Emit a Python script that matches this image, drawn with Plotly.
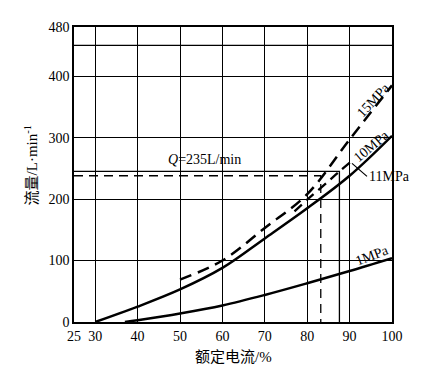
import plotly.graph_objects as go

# ---- data ----
x_ticks = [25, 30, 40, 50, 60, 70, 80, 90, 100]
y_ticks = [0, 100, 200, 300, 400, 480]
extra_hlines = [450]

x_1mpa = [37, 40, 50, 60, 70, 80, 90, 100]
y_1mpa = [0, 3, 14, 27, 44, 63, 83, 104]

x_10mpa = [30, 40, 50, 60, 70, 80, 90, 100]
y_10mpa = [0, 25, 53, 88, 136, 185, 238, 303]

x_11mpa = [77, 80, 85, 87.6, 90.5]
y_11mpa = [180, 199, 229, 245, 262]

x_15mpa = [50, 60, 70, 80, 90, 100]
y_15mpa = [69, 100, 153, 208, 297, 385]

q_solid_y, q_solid_x = 245, 87.6
q_dash_y, q_dash_x = 238, 83.2

FONT = "Liberation Serif, Times New Roman, Noto Sans CJK SC, serif"

fig = go.Figure()

for h in extra_hlines:
    fig.add_hline(y=h, line=dict(color="black", width=1.3), layer="below")

# Q reference lines
fig.add_trace(go.Scatter(x=[25, q_solid_x, q_solid_x], y=[q_solid_y, q_solid_y, 0],
                         mode="lines", line=dict(color="black", width=1.3)))
fig.add_trace(go.Scatter(x=[25, q_dash_x, q_dash_x], y=[q_dash_y, q_dash_y, 0],
                         mode="lines", line=dict(color="black", width=1.3, dash="9px,6px")))

# curves
fig.add_trace(go.Scatter(x=x_1mpa, y=y_1mpa, mode="lines", line_shape="spline",
                         line=dict(color="black", width=2.5)))
fig.add_trace(go.Scatter(x=x_10mpa, y=y_10mpa, mode="lines", line_shape="spline",
                         line=dict(color="black", width=2.5)))
fig.add_trace(go.Scatter(x=x_11mpa, y=y_11mpa, mode="lines", line_shape="spline",
                         line=dict(color="black", width=2.3, dash="10px,6px")))
fig.add_trace(go.Scatter(x=x_15mpa, y=y_15mpa, mode="lines", line_shape="spline",
                         line=dict(color="black", width=2.5, dash="12px,7px")))

# plot area in page pixels: x 74..392, y 26.5..321.7
def px2x(p):
    return 25 + (p - 74) / 318 * 75


def py2y(p):
    return (321.7 - p) / 295.2 * 480


def pxp(p):
    return (p - 74) / 318


def pyp(p):
    return (321.7 - p) / 295.2


labels = [
    ("15MPa", 373, 100, -47),
    ("10MPa", 371, 146, -40),
    ("1MPa", 372, 255, -21),
]
for t, px, py, ang in labels:
    fig.add_annotation(x=px2x(px), y=py2y(py), text=t, showarrow=False, textangle=ang,
                       font=dict(size=14, family=FONT, color="black"))

fig.add_annotation(x=px2x(352), y=py2y(163), text="11MPa", showarrow=True,
                   ax=px2x(367), ay=py2y(176), axref="x", ayref="y",
                   arrowhead=0, arrowwidth=1.2, arrowcolor="black", standoff=0,
                   xanchor="left", yanchor="middle",
                   font=dict(size=14, family=FONT, color="black"))

fig.add_annotation(x=px2x(204), y=py2y(159), text="<i>Q</i>=235L/min", showarrow=False,
                   font=dict(size=14, family=FONT, color="black"))

# axis titles (paper coordinates so they are drawn outside the plot area)
fig.add_annotation(x=pxp(233), xref="paper", y=pyp(357), yref="paper", text="额定电流/%",
                   xanchor="center", yanchor="middle",
                   showarrow=False, font=dict(size=15, family=FONT, color="black"))
fig.add_annotation(x=pxp(31), xref="paper", y=pyp(165), yref="paper",
                   xanchor="center", yanchor="middle",
                   text="流量/L·min<sup>-1</sup>", showarrow=False,
                   textangle=-90, font=dict(size=15, family=FONT, color="black"))

fig.update_xaxes(range=[25, 100], tickvals=x_ticks, ticktext=[str(v) for v in x_ticks],
                 showgrid=True, gridcolor="black", gridwidth=1.3, zeroline=False,
                 showline=True, linecolor="black", linewidth=1.6, mirror=True,
                 ticks="", ticklen=0, tickfont=dict(size=14, family=FONT, color="black"))
fig.update_yaxes(range=[0, 480], tickvals=y_ticks, ticktext=[str(v) for v in y_ticks],
                 showgrid=True, gridcolor="black", gridwidth=1.3, zeroline=False,
                 showline=True, linecolor="black", linewidth=1.6, mirror=True,
                 ticks="", ticklen=0, tickfont=dict(size=14, family=FONT, color="black"))

# page body has an 8px margin, so the figure is drawn 8px in from the corner
fig.update_layout(width=417, height=374, margin=dict(l=66, r=33, t=18.5, b=60.3),
                  plot_bgcolor="white", paper_bgcolor="white", showlegend=False)
fig.write_html("out.html")
